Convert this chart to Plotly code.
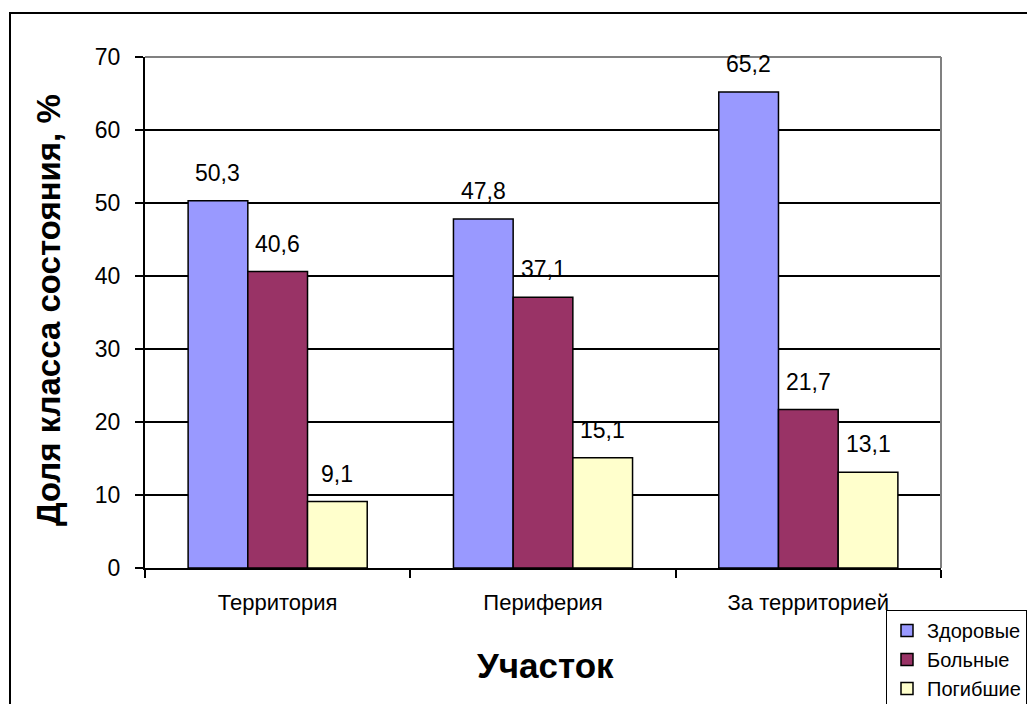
import plotly.graph_objects as go

# data
categories = ["Территория", "Периферия", "За территорией"]
series_names = ["Здоровые", "Больные", "Погибшие"]
healthy = [50.3, 47.8, 65.2]
sick = [40.6, 37.1, 21.7]
dead = [9.1, 15.1, 13.1]
y_ticks = [0, 10, 20, 30, 40, 50, 60, 70]

colors = ["#9999FF", "#993366", "#FFFFCC"]
font = "Arial, Liberation Sans, sans-serif"

# page body has an 8px margin, so pixel targets are shifted back by it
OFF = 8
W, H = 1035, 704
L, T = 145 - OFF, 57 - OFF
R, B = W - (941 - OFF), H - (568 - OFF)
PW, PH = W - L - R, H - T - B
bargap = 0.325


def px_x(p):
    return (p - OFF - L) / PW


def px_y(p):
    return (H - B - (p - OFF)) / PH


fig = go.Figure()
for name, vals, col in zip(series_names, [healthy, sick, dead], colors):
    fig.add_trace(go.Bar(
        x=categories, y=vals, name=name,
        marker=dict(color=col, line=dict(color="black", width=1.5)),
    ))

# value labels sitting above each bar
cat_px = PW / len(categories)
bar_px = (1 - bargap) * cat_px / len(series_names)
for i, vals in enumerate([healthy, sick, dead]):
    shift = (i - 1) * bar_px
    for c, v in zip(categories, vals):
        fig.add_annotation(
            x=c, y=v, xref="x", yref="y", text=f"{v:.1f}".replace(".", ","),
            showarrow=False, xshift=shift, yshift=28, yanchor="middle",
            font=dict(size=23, color="black", family=font),
        )

# axis titles
fig.add_annotation(
    x=px_x(48), y=px_y(310), xref="paper", yref="paper",
    xanchor="center", yanchor="middle",
    text="<b>Доля класса состояния, %</b>", showarrow=False, textangle=-90,
    font=dict(size=33, color="black", family=font),
)
fig.add_annotation(
    x=px_x(545), y=px_y(665), xref="paper", yref="paper",
    xanchor="center", yanchor="middle",
    text="<b>Участок</b>", showarrow=False,
    font=dict(size=35, color="black", family=font),
)

# plot area border (gray top/right) and outer frame
fig.add_shape(type="line", xref="paper", yref="paper", x0=0, x1=1, y0=1, y1=1,
              line=dict(color="#808080", width=2), layer="above")
fig.add_shape(type="line", xref="paper", yref="paper", x0=1, x1=1, y0=0, y1=1,
              line=dict(color="#808080", width=2), layer="above")
fig.add_shape(type="rect", xref="paper", yref="paper",
              x0=px_x(10), x1=px_x(1100), y0=px_y(760), y1=px_y(13),
              line=dict(color="black", width=2), layer="above")

fig.update_layout(
    width=W, height=H,
    margin=dict(l=L, r=R, t=T, b=B, autoexpand=False),
    paper_bgcolor="white", plot_bgcolor="white",
    barmode="group", bargap=bargap, bargroupgap=0,
    font=dict(family=font, size=22, color="black"),
    showlegend=True,
    legend=dict(
        xref="container", yref="container",
        x=(886 - OFF) / W, y=1 - (610 - OFF) / H, xanchor="left", yanchor="top",
        bordercolor="black", borderwidth=1, bgcolor="white",
        font=dict(size=20, family=font), itemwidth=30,
        tracegroupgap=0,
    ),
)
fig.update_xaxes(
    showline=True, linecolor="black", linewidth=2,
    ticks="outside", tickson="boundaries", ticklen=8, tickwidth=2, tickcolor="black",
    tickfont=dict(size=22), ticklabelstandoff=14, showgrid=False, automargin=False,
)
fig.update_yaxes(
    range=[0, 70], tickvals=y_ticks, showline=True, linecolor="black", linewidth=2,
    ticks="outside", ticklen=8, tickwidth=2, tickcolor="black",
    showgrid=True, gridcolor="black", gridwidth=1.5, zeroline=False,
    tickfont=dict(size=23), ticklabelstandoff=10, automargin=False,
)

fig.write_html("out.html")
